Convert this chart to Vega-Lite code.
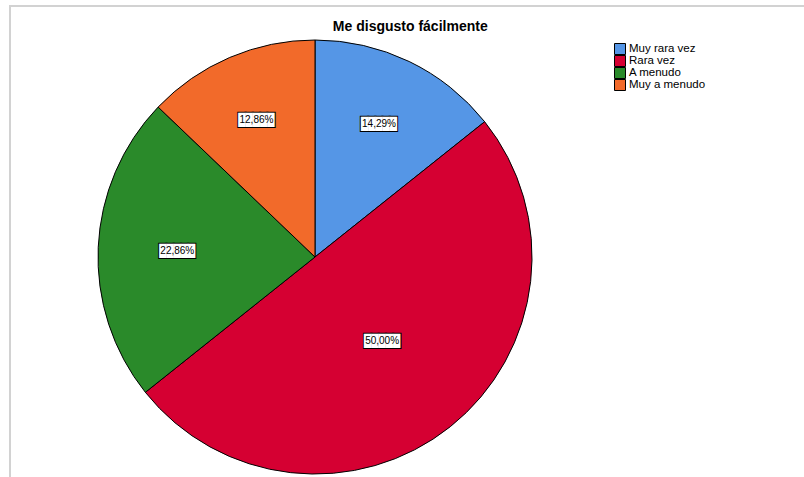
{
  "$schema": "https://vega.github.io/schema/vega-lite/v6.json",
  "width": 900,
  "height": 540,
  "autosize": {"type": "none"},
  "padding": {"left": 10, "top": 6, "right": 0, "bottom": 0},
  "background": "white",
  "view": {"stroke": "#d2d2d2", "strokeWidth": 2, "fill": "white"},
  "config": {
    "view": {"stroke": "#d2d2d2", "strokeWidth": 2},
    "font": "Liberation Sans"
  },
  "title": {
    "text": "Me disgusto fácilmente",
    "anchor": "start",
    "align": "center",
    "baseline": "alphabetic",
    "offset": 0,
    "dx": 403,
    "dy": 42,
    "fontSize": 14,
    "fontWeight": "bold",
    "font": "Liberation Sans",
    "color": "black"
  },
  "data": {
    "values": [
      {"cat": "Muy rara vez", "pct": 14.29, "label": "14,29%", "order": 1},
      {"cat": "Rara vez", "pct": 50.0, "label": "50,00%", "order": 2},
      {"cat": "A menudo", "pct": 22.86, "label": "22,86%", "order": 3},
      {"cat": "Muy a menudo", "pct": 12.86, "label": "12,86%", "order": 4}
    ]
  },
  "layer": [
    {
      "mark": {"type": "arc", "x": 305, "y": 251, "outerRadius": 217, "stroke": "black", "strokeWidth": 1},
      "encoding": {
        "theta": {"field": "pct", "type": "quantitative", "stack": true},
        "order": {"field": "order", "type": "quantitative"},
        "color": {
          "field": "cat",
          "type": "nominal",
          "scale": {
            "domain": ["Muy rara vez", "Rara vez", "A menudo", "Muy a menudo"],
            "range": ["#5596e6", "#d50032", "#2a8a2a", "#f26a2a"]
          },
          "legend": {
            "orient": "none",
            "legendX": 604,
            "legendY": 37,
            "title": null,
            "symbolType": "square",
            "symbolSize": 121,
            "symbolStrokeColor": "black",
            "symbolStrokeWidth": 1,
            "symbolOpacity": 1,
            "labelFontSize": 11.5,
            "labelFont": "Liberation Sans",
            "labelColor": "black",
            "labelOffset": 3,
            "clipHeight": 12,
            "rowPadding": 0
          }
        }
      }
    },
    {
      "mark": {"type": "text", "x": 305, "y": 251, "text": "█████", "font": "DejaVu Sans Mono", "fontSize": 12, "fill": "white", "stroke": "black", "strokeWidth": 2, "baseline": "middle", "align": "center"},
      "encoding": {
        "theta": {"field": "pct", "type": "quantitative", "stack": true},
        "order": {"field": "order", "type": "quantitative"},
        "radius": {"field": "pct", "type": "quantitative", "scale": {"type": "linear", "zero": false, "domain": [12.86, 50], "range": [149, 107.6]}}
      }
    },
    {
      "mark": {"type": "text", "x": 305, "y": 251, "text": "█████", "font": "DejaVu Sans Mono", "fontSize": 12, "fill": "white", "baseline": "middle", "align": "center"},
      "encoding": {
        "theta": {"field": "pct", "type": "quantitative", "stack": true},
        "order": {"field": "order", "type": "quantitative"},
        "radius": {"field": "pct", "type": "quantitative", "scale": {"type": "linear", "zero": false, "domain": [12.86, 50], "range": [149, 107.6]}}
      }
    },
    {
      "mark": {"type": "text", "x": 305, "y": 251, "font": "Liberation Sans", "fontSize": 10, "fill": "black", "baseline": "middle", "align": "center"},
      "encoding": {
        "theta": {"field": "pct", "type": "quantitative", "stack": true},
        "order": {"field": "order", "type": "quantitative"},
        "radius": {"field": "pct", "type": "quantitative", "scale": {"type": "linear", "zero": false, "domain": [12.86, 50], "range": [149, 107.6]}},
        "text": {"field": "label", "type": "nominal"}
      }
    },
    {
      "mark": {"type": "point", "opacity": 0},
      "encoding": {
        "x": {"datum": 0, "type": "quantitative", "axis": null},
        "y": {"datum": 0, "type": "quantitative", "axis": null}
      }
    }
  ]
}
